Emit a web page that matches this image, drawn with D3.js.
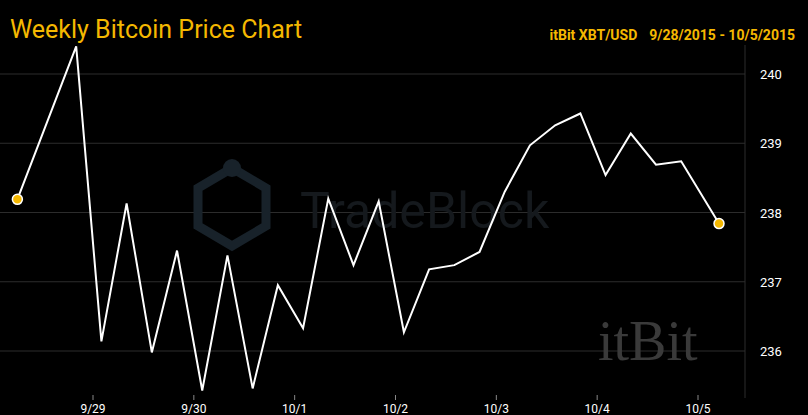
<!DOCTYPE html>
<html><head><meta charset="utf-8">
<script src="https://cdn.jsdelivr.net/npm/d3@7"></script>
<style>body{margin:0;background:#000;}svg{display:block;font-family:Roboto,"Open Sans",sans-serif;}</style>
</head><body><svg id="c" width="808" height="415"></svg>
<script>
// first point 9/28 06:00, then every 6 hours from 9/28 20:00, last point 10/5 05:00
const firstPrice = 238.19;
const prices = [240.4, 236.14, 238.13, 235.98, 237.45, 235.43, 237.38, 235.46, 236.95,
  236.33, 238.2, 237.24, 238.16, 236.27, 237.18, 237.24, 237.43, 238.3, 238.97,
  239.26, 239.43, 238.54, 239.14, 238.69, 238.74];
const lastPrice = 237.84;
const tickDates = ["2015-09-29", "2015-09-30", "2015-10-01", "2015-10-02", "2015-10-03", "2015-10-04", "2015-10-05"];
const yTicks = [236, 237, 238, 239, 240];

const hour = 3600e3;
const seriesStart = new Date(2015, 8, 28, 20);
const data = [{ t: new Date(2015, 8, 28, 6), p: firstPrice }]
  .concat(prices.map((p, i) => ({ t: new Date(+seriesStart + i * 6 * hour), p })));
data.push({ t: new Date(2015, 9, 5, 5), p: lastPrice });

const svg = d3.select("#c");
const x = d3.scaleTime()
  .domain([new Date(2015, 8, 29), new Date(2015, 9, 5)])
  .range([93, 698]);
const y = d3.scaleLinear().domain([236, 240]).range([351, 74]);

// grid
svg.append("g").selectAll("line").data(yTicks).enter().append("line")
  .attr("x1", 0).attr("x2", 745).attr("y1", d => y(d)).attr("y2", d => y(d))
  .attr("stroke", "#2c2c2c").attr("stroke-width", 1);
svg.append("line").attr("x1", 745).attr("x2", 745).attr("y1", 45).attr("y2", 398)
  .attr("stroke", "#2c2c2c");

// watermarks
const wm = svg.append("g").attr("fill", "none").attr("stroke", "#18222a").attr("stroke-width", 9);
wm.append("path").attr("d", "M232,168 L266,188 L266,226 L232,246 L198,226 L198,188 Z");
svg.append("circle").attr("cx", 232).attr("cy", 168).attr("r", 9).attr("fill", "#18222a");
svg.append("text").attr("x", 300).attr("y", 228).attr("font-size", 50).attr("fill", "#15191d").text("TradeBlock");
svg.append("text").attr("x", 598).attr("y", 360).attr("font-size", 56).attr("font-family", "Liberation Serif")
  .attr("fill", "#3a3a3a").text("itBit");

// right axis
svg.append("g").selectAll("text").data(yTicks).enter().append("text")
  .attr("x", 760).attr("y", d => y(d) + 5).attr("fill", "#fff").attr("font-size", 13)
  .text(d => d);

// bottom axis
const xt = svg.append("g");
tickDates.forEach(s => {
  const d = new Date(s + "T00:00:00");
  const px = x(d);
  xt.append("line").attr("x1", px).attr("x2", px).attr("y1", 395).attr("y2", 400).attr("stroke", "#888");
  xt.append("text").attr("x", px).attr("y", 413).attr("text-anchor", "middle")
    .attr("fill", "#fff").attr("font-size", 12).text(d3.timeFormat("%-m/%-d")(d));
});

// line
svg.append("path").datum(data)
  .attr("d", d3.line().x(d => x(d.t)).y(d => y(d.p)))
  .attr("fill", "none").attr("stroke", "#fff").attr("stroke-width", 2);

svg.selectAll("circle.end").data([data[0], data[data.length - 1]]).enter().append("circle")
  .attr("class", "end").attr("cx", d => x(d.t)).attr("cy", d => y(d.p)).attr("r", 5)
  .attr("fill", "#f5b800").attr("stroke", "#fff").attr("stroke-width", 1.5);

// titles
svg.append("text").attr("x", 10).attr("y", 38).attr("fill", "#f5b800").attr("font-size", 25)
  .text("Weekly Bitcoin Price Chart");
svg.append("text").attr("x", 795).attr("y", 40).attr("text-anchor", "end").attr("font-size", 14)
  .attr("font-weight", "bold").attr("fill", "#f5b800")
  .html('itBit XBT/USD<tspan dx="12">9/28/2015 - 10/5/2015</tspan>');
</script></body></html>
